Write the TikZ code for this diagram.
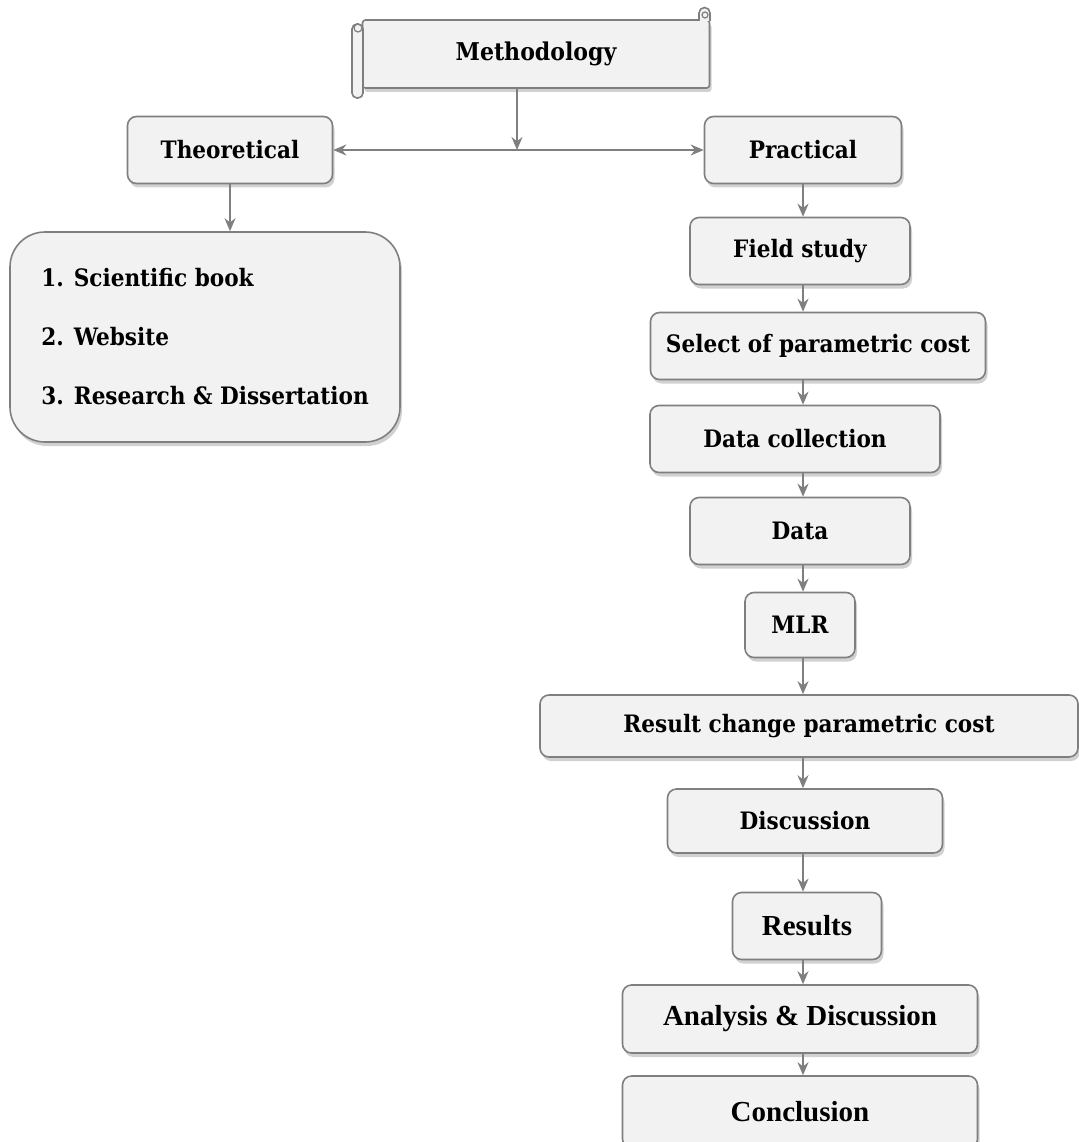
\documentclass[tikz,border=0pt]{standalone}
\usepackage{fontspec}
\setmainfont{DejaVu Serif Condensed}
\newfontfamily\timesfont{Liberation Serif}
\newcommand\closingfont{\fontsize{29}{33}\timesfont\bfseries}
\usetikzlibrary{positioning, arrows.meta, shadows}
\definecolor{linegray}{HTML}{7F7F7F}
\definecolor{boxgray}{HTML}{F2F2F2}
\tikzset{stage/.style = {rectangle, rounded corners=9pt, minimum height=67pt, text centered, draw=linegray, line width=1.6pt, fill=boxgray, drop shadow={shadow xshift=2pt, shadow yshift=-4pt, opacity=0.3, fill=black!60}, font=\fontsize{24}{28}\selectfont\bfseries}}
\tikzset{closing/.style = {stage, font=\closingfont}}
\tikzset{link/.style = {draw=linegray, line width=1.6pt, -{Stealth[length=13pt,width=11pt]}}}

\begin{document}
\begin{tikzpicture}[x=1pt, y=-1pt, node distance=94pt]
\useasboundingbox (0,0) rectangle (1078,1142);
			% scroll at the top
			\node (method) [stage, rounded corners=3pt, minimum width=347pt, minimum height=68pt, font=\fontsize{24.5}{29}\selectfont\bfseries] at (536,54) {Methodology};
			\draw [draw=linegray, line width=1.6pt, fill=boxgray, rounded corners=5pt] (352,24) rectangle (363,98);
			\draw [draw=linegray, line width=1.2pt] (358,28) circle (4pt);
			\draw [draw=linegray, line width=1.6pt, fill=boxgray] (699,21) -- (699,13) arc (180:0:5.5pt) -- (710,21);
			\draw [draw=linegray, line width=1.2pt] (705,15) circle (3pt);
			\coordinate (join) at (517,150);
			
			\node (theo) [stage, minimum width=205pt] at (230,150) {Theoretical};
			\node (prac) [stage, minimum width=197pt] at (803,150) {Practical};
			\node (list) [stage, minimum width=390pt, minimum height=210pt, rounded corners=35pt, align=left] at (205,337) {1. Scientific book\\[31pt]2. Website\\[31pt]3. Research \& Dissertation};
			
			\node (field) [stage, below of=prac, node distance=101pt, xshift=-3pt, minimum width=220pt] {Field study};
			\node (select) [stage, below of=field, node distance=95pt, xshift=18pt, minimum width=335pt] {Select of parametric cost};
			\node (dcoll) [stage, below of=select, node distance=93pt, xshift=-23pt, minimum width=290pt] {Data collection};
			\node (data) [stage, below of=dcoll, node distance=92pt, xshift=5pt, minimum width=220pt] {Data};
			\node (mlr) [stage, below of=data, minimum width=110pt, minimum height=65pt] {MLR};
			\node (change) [stage, below of=mlr, node distance=101pt, xshift=9pt, minimum width=538pt, minimum height=62pt] {Result change parametric cost};
			\node (disc) [stage, below of=change, node distance=95pt, xshift=-4pt, minimum width=275pt, minimum height=64pt] {Discussion};
			\node (res) [closing, below of=disc, node distance=105pt, xshift=2pt, minimum width=149pt] {Results};
			\node (anal) [closing, below of=res, node distance=93pt, xshift=-7pt, minimum width=355pt, minimum height=68pt] {Analysis \& Discussion};
			\node (concl) [closing, below of=anal, node distance=93pt, minimum width=355pt, minimum height=72pt] {Conclusion};
			
			\draw [link] (join |- method.south) -- (join);
			\draw [link, {Stealth[length=13pt,width=11pt]}-{Stealth[length=13pt,width=11pt]}] (theo) -- (prac);
			\draw [link] (theo) -- (theo |- list.north);
			\draw [link] (prac) -- (prac |- field.north);
			\draw [link] (field.south -| prac) -- (select.north -| prac);
			\draw [link] (select.south -| prac) -- (dcoll.north -| prac);
			\draw [link] (dcoll.south -| prac) -- (data.north -| prac);
			\draw [link] (data.south -| prac) -- (mlr.north -| prac);
			\draw [link] (mlr.south -| prac) -- (change.north -| prac);
			\draw [link] (change.south -| prac) -- (disc.north -| prac);
			\draw [link] (disc.south -| prac) -- (res.north -| prac);
			\draw [link] (res.south -| prac) -- (anal.north -| prac);
			\draw [link] (anal.south -| prac) -- (concl.north -| prac);
\end{tikzpicture}
\end{document}
